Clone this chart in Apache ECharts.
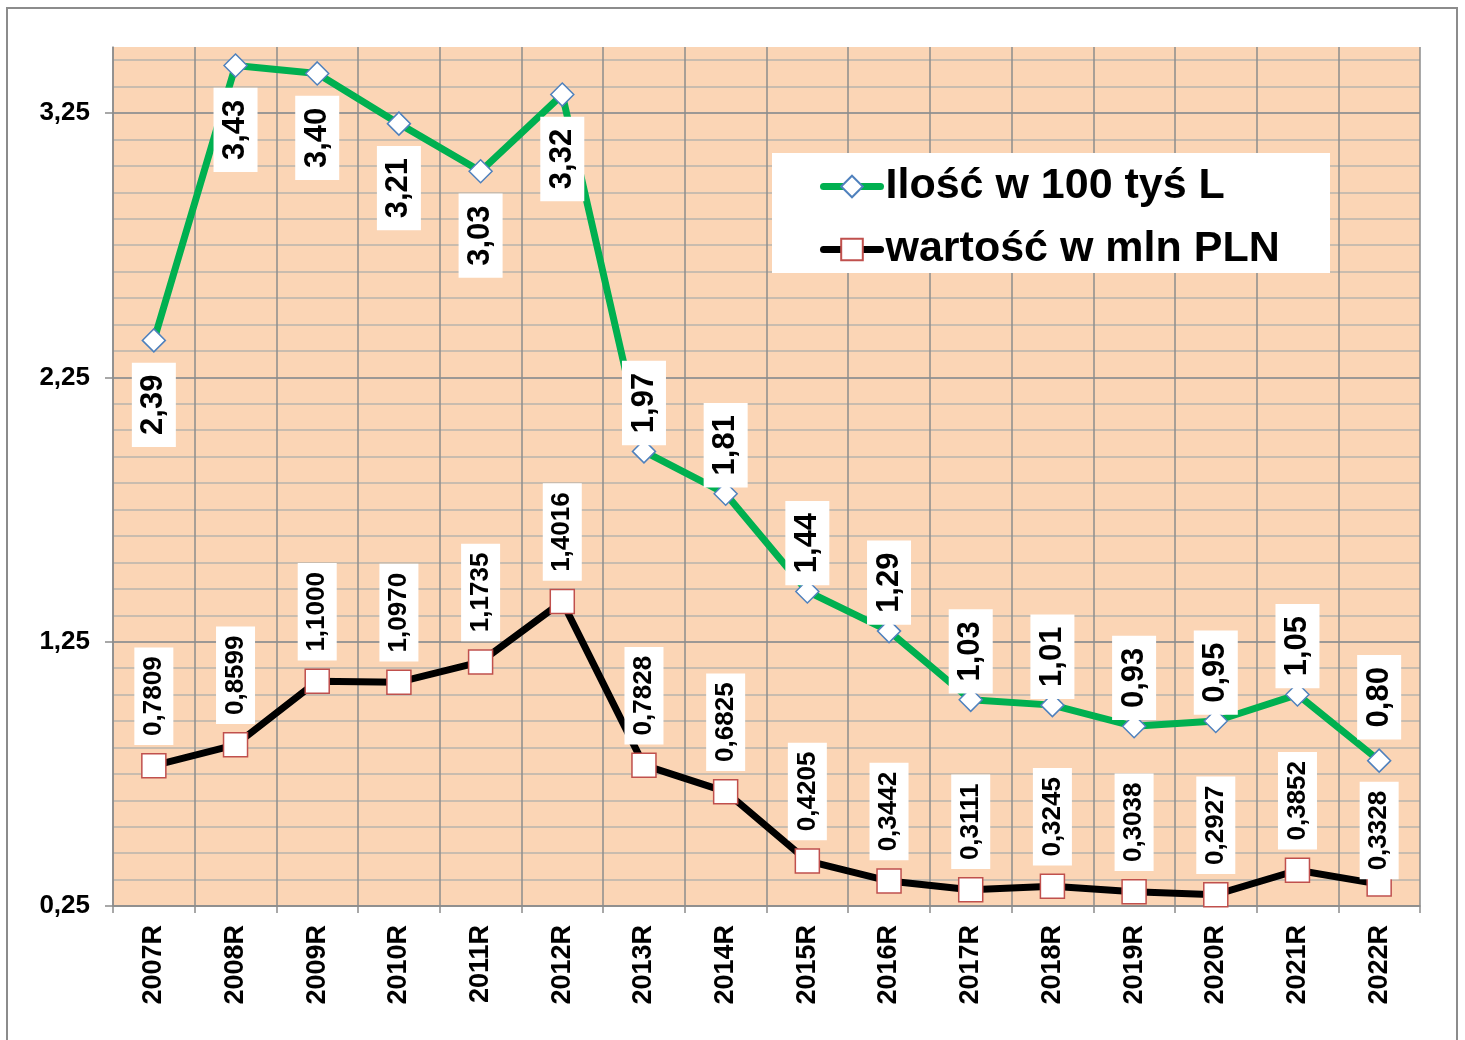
<!DOCTYPE html>
<html>
<head>
<meta charset="utf-8">
<script src="https://cdn.jsdelivr.net/npm/echarts@6/dist/echarts.min.js"></script>
<style>
  html, body { margin: 0; padding: 0; background: #fff; }
  #chart { width: 1465px; height: 1040px; }
</style>
</head>
<body>
<div id="chart"></div>
<script>
  // lata
  const years = ['2007R', '2008R', '2009R', '2010R', '2011R', '2012R', '2013R', '2014R',
    '2015R', '2016R', '2017R', '2018R', '2019R', '2020R', '2021R', '2022R']
  // Ilość w 100 tyś L
  const ilosc = [2.39, 3.43, 3.40, 3.21, 3.03, 3.32, 1.97, 1.81, 1.44, 1.29, 1.03, 1.01, 0.93, 0.95, 1.05, 0.80]
  // wartość w mln PLN
  const wartosc = [0.7809, 0.8599, 1.1000, 1.0970, 1.1735, 1.4016, 0.7828, 0.6825,
    0.4205, 0.3442, 0.3111, 0.3245, 0.3038, 0.2927, 0.3852, 0.3328]
  const yMin = 0.25
  const yMax = 3.5

  const font = 'Liberation Sans, Arial, sans-serif'
  const gridGray = '#8c8c8c'
  const fmt = (v, d) => v.toFixed(d).replace('.', ',')

  const iloscData = ilosc.map((v, i) => {
    const below = i < 6
    return {
      value: v,
      label: below
        ? { position: 'bottom', align: 'right', verticalAlign: 'middle', distance: 10 }
        : { position: 'top', align: 'left', verticalAlign: 'middle', distance: i === 15 ? 9 : -6 }
    }
  })
  const wartoscData = wartosc.map((v, i) => ({
    value: v,
    label: { position: 'top', align: 'left', verticalAlign: 'middle', distance: i === 15 ? -8 : 8 }
  }))

  const chart = echarts.init(document.getElementById('chart'))
  chart.setOption({
    animation: false,
    textStyle: { fontFamily: font },
    grid: {
      left: 113, right: 45, top: 47, bottom: 134,
      show: true, backgroundColor: '#fbd5b5', borderWidth: 0
    },
    graphic: [
      {
        type: 'rect', z: 1,
        shape: { x: 7, y: 8, width: 1450, height: 1040 },
        style: { fill: 'none', stroke: '#8c8c8c', lineWidth: 2 }
      },
      {
        type: 'rect', z: 3,
        shape: { x: 772, y: 153, width: 558, height: 120 },
        style: { fill: '#fff' }
      }
    ],
    legend: {
      orient: 'vertical',
      left: 815,
      top: 160,
      itemWidth: 57,
      itemHeight: 27,
      itemGap: 20,
      lineStyle: { width: 7, cap: 'round' },
      textStyle: { fontSize: 43, fontWeight: 'bold', color: '#000', lineHeight: 40, fontFamily: font },
      data: ['Ilość w 100 tyś L', 'wartość w mln PLN']
    },
    xAxis: {
      type: 'category',
      data: years,
      boundaryGap: true,
      axisLine: { lineStyle: { color: gridGray, width: 1.5 } },
      axisTick: { show: true, length: 7, lineStyle: { color: gridGray, width: 1.5 } },
      splitLine: { show: true, lineStyle: { color: gridGray, width: 1.5 } },
      axisLabel: {
        rotate: 90, margin: 19, color: '#000',
        fontSize: 27, fontWeight: 'bold', fontFamily: font
      }
    },
    yAxis: [
      {
        type: 'value',
        min: yMin, max: yMax, interval: 1,
        z: 1,
        axisLine: { show: true, lineStyle: { color: gridGray, width: 1.5 } },
        axisTick: { show: true, length: 8, lineStyle: { color: gridGray, width: 1.5 } },
        splitLine: { show: true, showMaxLine: false, lineStyle: { color: gridGray, width: 1.5 } },
        axisLabel: {
          margin: 23, color: '#000', fontSize: 26, fontWeight: 'bold', fontFamily: font,
          showMaxLabel: false,
          formatter: v => fmt(v, 2)
        }
      },
      {
        type: 'value',
        min: yMin, max: yMax, interval: 0.1,
        z: 0,
        axisLine: { show: false },
        axisTick: { show: false },
        axisLabel: { show: false },
        splitLine: { show: true, showMaxLine: false, lineStyle: { color: '#b9b3ad', width: 1.5 } }
      }
    ],
    series: [
      {
        name: 'Ilość w 100 tyś L',
        type: 'line',
        yAxisIndex: 0,
        data: iloscData,
        symbol: 'diamond',
        symbolSize: 23,
        lineStyle: { color: '#00b050', width: 7 },
        itemStyle: { color: '#fff', borderColor: '#4f81bd', borderWidth: 1.5 },
        label: {
          show: true,
          rotate: 90,
          color: '#000',
          fontSize: 31,
          fontWeight: 'bold',
          fontFamily: font,
          lineHeight: 30,
          backgroundColor: '#fff',
          padding: [7, 12, 7, 12],
          formatter: p => fmt(p.value, 2)
        }
      },
      {
        name: 'wartość w mln PLN',
        type: 'line',
        yAxisIndex: 0,
        data: wartoscData,
        symbol: 'rect',
        symbolSize: 24,
        lineStyle: { color: '#000', width: 7 },
        itemStyle: { color: '#fff', borderColor: '#c0504d', borderWidth: 1.5 },
        label: {
          show: true,
          rotate: 90,
          color: '#000',
          fontSize: 26,
          fontWeight: 'bold',
          fontFamily: font,
          lineHeight: 27,
          backgroundColor: '#fff',
          padding: [6, 9, 6, 9],
          formatter: p => fmt(p.value, 4)
        }
      }
    ]
  })
</script>
</body>
</html>
